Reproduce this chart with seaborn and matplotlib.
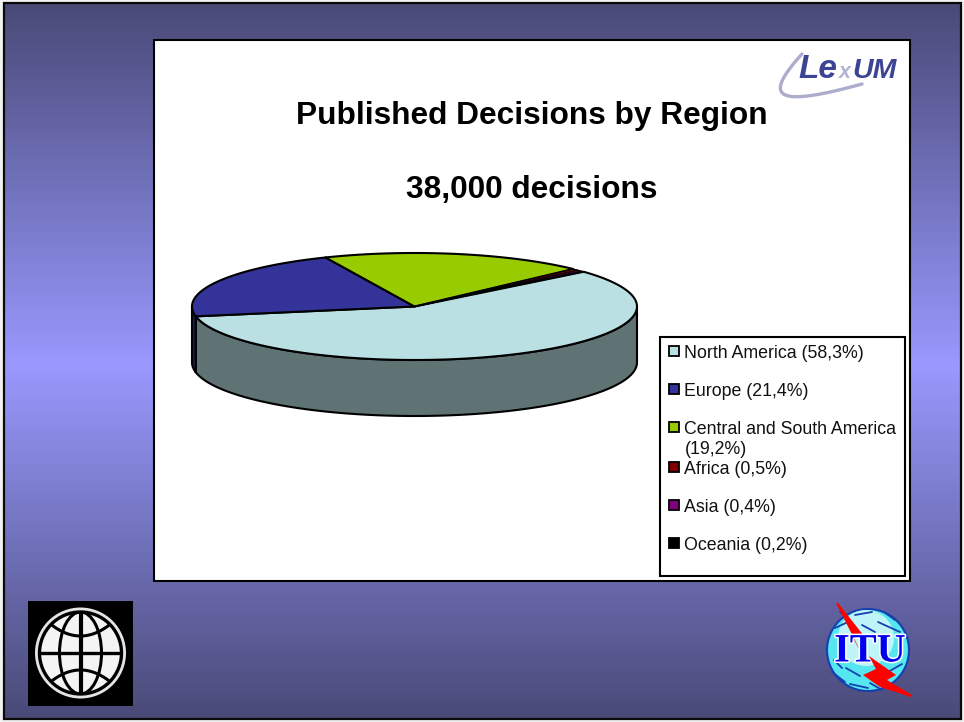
import numpy as np
import matplotlib
matplotlib.use("Agg")
import matplotlib.pyplot as plt
from matplotlib.patches import Polygon, Rectangle, Circle, Ellipse
import matplotlib.patheffects as pe
import seaborn as sns

# ---- data ----
regions = ["North America", "Europe", "Central and South America", "Africa", "Asia", "Oceania"]
shares = [58.3, 21.4, 19.2, 0.5, 0.4, 0.2]
top_colors = ["#BAE0E3", "#333399", "#99CC00", "#800000", "#800080", "#000000"]
title_lines = ["Published Decisions by Region", "38,000 decisions"]

sns.set_theme(style="white")
plt.rcParams["font.family"] = ["Liberation Sans", "DejaVu Sans"]

W, H = 964, 722
fig = plt.figure(figsize=(W / 100, H / 100), dpi=100, facecolor="#f2f2f2")
ax = fig.add_axes([0, 0, 1, 1])
ax.set_xlim(0, W)
ax.set_ylim(H, 0)
ax.axis("off")

# ---- slide background ----
cmap = sns.blend_palette(["#4A4A78", "#9999FF", "#4A4A78"], as_cmap=True)
rows = np.linspace(0, H, 400)
grad = 0.5 - 0.5 * np.abs(rows - 365) / np.where(rows < 365, 365, H - 365)
ax.imshow(grad[:, None], cmap=cmap, vmin=0, vmax=1, extent=(4, 961, 719, 3), aspect="auto", zorder=0)
ax.set_xlim(0, W)
ax.set_ylim(H, 0)
ax.add_patch(Rectangle((4, 3), 957, 716, fill=False, ec="#0a0a0a", lw=1.6, zorder=1))

# ---- white panel ----
ax.add_patch(Rectangle((154, 40), 756, 541, fc="white", ec="black", lw=1.5, zorder=2))
for line, y in zip(title_lines, [116, 190]):
    ax.text(531.5, y, line, ha="center", va="center", fontsize=22.8, fontweight="bold", color="black", zorder=5)

# ---- 3-D pie ----
cx, cy, rx, ry, depth = 414.5, 306.5, 222.5, 53.5, 56
start = 40.5
fracs = np.array(shares) / np.sum(shares)
ends = start - np.cumsum(fracs) * 360
starts = np.r_[start, ends[:-1]]


def rim(t1, t2, n=120):
    t = np.radians(np.linspace(t1, t2, n))
    return cx + rx * np.cos(t), cy - ry * np.sin(t)


def shade(c, k):
    return tuple(v * k for v in matplotlib.colors.to_rgb(c))


# side walls: only the part of every slice on the near half of the rim
for a, b, c in zip(starts, ends, top_colors):
    for lo, hi in [(-180, 0), (-540, -360)]:
        t2, t1 = max(b, lo), min(a, hi)
        if t1 > t2:
            x, y = rim(t1, t2)
            pts = np.r_[np.c_[x, y], np.c_[x, y + depth][::-1]]
            ax.add_patch(Polygon(pts, closed=True, fc=shade(c, 0.51), ec="black", lw=1.5,
                                 joinstyle="round", zorder=3))
# top faces
for a, b, c in zip(starts, ends, top_colors):
    x, y = rim(a, b)
    pts = np.r_[[[cx, cy]], np.c_[x, y]]
    lw = 1.5 if (a - b) > 5 else 0.8
    ax.add_patch(Polygon(pts, closed=True, fc=c, ec="black", lw=lw, joinstyle="round", zorder=4))

# ---- legend ----
ax.add_patch(Rectangle((660, 337), 245, 239, fc="white", ec="black", lw=1.5, zorder=5))
key_rows = [351, 389, 427, 467, 505, 543]
text_rows = [353, 391, 429, 470, 508, 545]
for name, v, c, ky, ty in zip(regions, shares, top_colors, key_rows, text_rows):
    pct = f"({v:.1f}%)".replace(".", ",")
    ax.add_patch(Rectangle((668.5, ky - 5.5), 10.5, 10.5, fc=c, ec="black", lw=1.3, zorder=6))
    if len(name) > 20:
        ax.text(684.5, ty, name, ha="left", va="center", fontsize=12.75, color="#111111", zorder=6)
        ax.text(684.5, ty + 20, pct, ha="left", va="center", fontsize=12.75, color="#111111", zorder=6)
    else:
        ax.text(684.5, ty, f"{name} {pct}", ha="left", va="center", fontsize=12.75, color="#111111", zorder=6)

# ---- LexUM logo ----
s = np.linspace(0, 1, 60)
sx = (1 - s) ** 3 * 802 + 3 * (1 - s) ** 2 * s * 762 + 3 * (1 - s) * s ** 2 * 775 + s ** 3 * 862
sy = (1 - s) ** 3 * 54 + 3 * (1 - s) ** 2 * s * 98 + 3 * (1 - s) * s ** 2 * 108 + s ** 3 * 84
ax.plot(sx, sy, color="#A3A3C8", lw=2.4, alpha=0.9, solid_capstyle="round", zorder=3)
logo = dict(ha="left", va="baseline", fontstyle="italic", fontweight="bold", zorder=4)
ax.text(798, 78, "Le", fontsize=24, color="#3C4594", **logo)
ax.text(839, 78, "x", fontsize=15.5, color="#B4B4D2", **logo)
ax.text(852, 78, "UM", fontsize=20.5, color="#3C4594", **logo)

# ---- World Bank logo ----
gx, gy = 80.5, 653
ax.add_patch(Rectangle((28, 601), 105, 105, fc="black", ec="none", zorder=2))
ax.add_patch(Circle((gx, gy), 45.5, fc="#e4e4e4", ec="none", zorder=3))
ax.add_patch(Circle((gx, gy), 41, fc="#f4f4f4", ec="black", lw=2.4, zorder=3))
clip = Circle((gx, gy), 41, transform=ax.transData)
glines = [ax.plot([gx, gx], [gy - 41, gy + 41], color="black", lw=3.0, zorder=4)[0],
          ax.plot([gx - 41, gx + 41], [gy, gy], color="black", lw=2.4, zorder=4)[0]]
e = Ellipse((gx, gy), 42, 82, fill=False, ec="black", lw=2.2, zorder=4)
ax.add_patch(e)
glines.append(e)
u = np.linspace(-41, 41, 60)
for sign in (-1, 1):
    glines.append(ax.plot(gx + u, gy + sign * (17 + 9 * (u / 26) ** 2), color="black", lw=2.2, zorder=4)[0])
for g in glines:
    g.set_clip_path(clip)

# ---- ITU logo ----
ix, iy = 868, 650
ax.add_patch(Circle((ix, iy), 41, fc="#55E6F0", ec="#1540B0", lw=1.5, zorder=3))
ax.add_patch(Circle((ix - 2, iy - 12), 28, fc="#BFF5F9", ec="none", zorder=3))
specks = [((835, 628), (848, 622)), ((855, 615), (872, 612)), ((878, 622), (900, 632)),
          ((884, 612), (895, 620)), ((832, 672), (845, 682)), ((850, 684), (868, 688)),
          ((846, 668), (860, 676)), ((888, 672), (902, 664)), ((862, 625), (875, 632)),
          ((840, 612), (848, 618)), ((870, 683), (882, 690)), ((834, 660), (842, 668))]
for p, q in specks:
    ax.plot([p[0], q[0]], [p[1], q[1]], color="#1540B0", lw=1.3, zorder=3)
ax.add_patch(Polygon([(836, 603), (838, 603), (864, 636), (852, 636), (859, 649), (864, 658)],
                     closed=True, fc="#FF0000", ec="none", zorder=4))
ax.text(ix + 2, iy + 2, "ITU", ha="center", va="center", fontsize=29, fontweight="bold",
        family="Liberation Serif", color="#0000EE", zorder=5,
        path_effects=[pe.withStroke(linewidth=2.2, foreground="white")])
ax.add_patch(Polygon([(869, 656), (896, 675), (887, 680), (912, 695), (911, 697), (880, 687),
                      (863, 675), (876, 669)],
                     closed=True, fc="#FF0000", ec="none", zorder=6))

fig.savefig("out.png", dpi=100, facecolor=fig.get_facecolor())
